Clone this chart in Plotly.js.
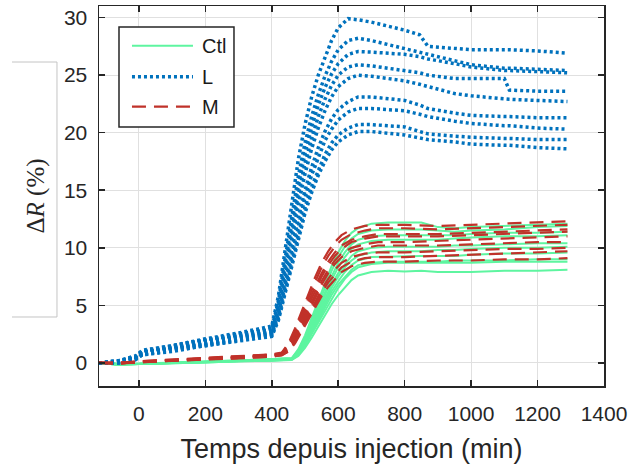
<!DOCTYPE html>
<html>
<head>
<meta charset="utf-8">
<script src="https://cdn.plot.ly/plotly-3.0.1.min.js"></script>
<style>html,body{margin:0;padding:0;background:#fff;}#chart{width:632px;height:464px;}</style>
</head>
<body>
<div id="chart"></div>
<script>
// ---- Data ----
const CATEGORIES = ['Ctl', 'L', 'M'];
const X_TICKS = [0, 200, 400, 600, 800, 1000, 1200, 1400];
const Y_TICKS = [0, 5, 10, 15, 20, 25, 30];

// Ctl group (green, solid)
const T_CTL = [-120, -60, 0, 100, 200, 300, 400, 460, 480, 500, 520, 540, 560, 580, 600, 620, 640, 660, 700, 750, 800, 850, 900, 950, 1000, 1100, 1200, 1290];
const CTL_1 = [0.0, -0.1, -0.1, 0.0, 0.1, 0.2, 0.3, 0.4, 1.2, 2.4, 3.9, 5.4, 7.0, 8.4, 9.6, 10.6, 11.3, 11.7, 12.1, 12.2, 12.2, 12.2, 11.8, 11.7, 11.8, 11.9, 12.0, 12.1];
const CTL_2 = [0.0, -0.1, -0.1, 0.0, 0.1, 0.2, 0.3, 0.4, 1.1, 2.2, 3.6, 5.1, 6.6, 8.0, 9.2, 10.1, 10.8, 11.2, 11.5, 11.6, 11.6, 11.6, 11.5, 11.4, 11.5, 11.6, 11.8, 11.9];
const CTL_3 = [0.0, -0.15, -0.1, 0.0, 0.05, 0.15, 0.25, 0.35, 1.0, 2.1, 3.4, 4.8, 6.2, 7.5, 8.7, 9.6, 10.3, 10.7, 11.0, 11.1, 11.1, 11.1, 11.1, 11.1, 11.2, 11.3, 11.3, 11.4];
const CTL_4 = [0.0, -0.1, -0.05, 0.0, 0.1, 0.2, 0.3, 0.4, 1.0, 2.0, 3.2, 4.5, 5.9, 7.2, 8.3, 9.2, 9.9, 10.3, 10.6, 10.7, 10.7, 10.7, 10.7, 10.8, 10.9, 11.0, 11.0, 11.1];
const CTL_5 = [0.0, -0.15, -0.1, -0.05, 0.05, 0.15, 0.25, 0.35, 0.9, 1.9, 3.0, 4.3, 5.6, 6.8, 7.8, 8.6, 9.3, 9.7, 10.0, 10.1, 10.1, 10.1, 10.1, 10.2, 10.2, 10.3, 10.4, 10.4];
const CTL_6 = [0.0, -0.1, -0.1, 0.0, 0.1, 0.2, 0.3, 0.35, 0.9, 1.8, 2.9, 4.1, 5.3, 6.5, 7.5, 8.3, 8.9, 9.3, 9.6, 9.7, 9.7, 9.7, 9.8, 9.8, 9.9, 10.0, 10.0, 10.1];
const CTL_7 = [0.0, -0.15, -0.1, 0.0, 0.05, 0.15, 0.25, 0.3, 0.8, 1.7, 2.7, 3.9, 5.1, 6.2, 7.1, 7.9, 8.5, 8.9, 9.2, 9.25, 9.25, 9.3, 9.3, 9.3, 9.4, 9.5, 9.5, 9.6];
const CTL_8 = [0.0, -0.1, -0.1, 0.0, 0.1, 0.2, 0.25, 0.3, 0.8, 1.6, 2.6, 3.7, 4.8, 5.9, 6.8, 7.5, 8.1, 8.5, 8.7, 8.8, 8.8, 8.8, 8.8, 8.9, 8.9, 8.9, 9.0, 9.0];
const CTL_9 = [0.0, -0.15, -0.1, -0.05, 0.05, 0.15, 0.2, 0.3, 0.7, 1.5, 2.5, 3.5, 4.6, 5.6, 6.5, 7.3, 7.9, 8.3, 8.6, 8.7, 8.7, 8.7, 8.7, 8.7, 8.7, 8.8, 8.8, 8.8];
const CTL_10 = [0.0, -0.1, -0.1, 0.0, 0.05, 0.15, 0.2, 0.25, 0.6, 1.3, 2.2, 3.2, 4.2, 5.1, 5.9, 6.6, 7.2, 7.6, 7.9, 8.0, 7.95, 8.0, 7.9, 7.9, 7.9, 8.0, 8.0, 8.1];

// L group (blue, dotted)
const T_L = [-120, -60, -10, 10, 100, 200, 300, 400, 420, 440, 460, 480, 500, 520, 540, 560, 580, 600, 630, 660, 700, 800, 845, 870, 950, 1000, 1100, 1115, 1200, 1290];
const L_1 = [0.0, 0.2, 0.6, 1.1, 1.5, 2.1, 2.6, 3.2, 5.8, 9.8, 13.7, 17.7, 20.7, 23.1, 25.0, 26.6, 28.0, 29.1, 29.9, 29.8, 29.6, 28.9, 28.5, 27.5, 27.3, 27.2, 27.2, 27.2, 27.1, 26.9];
const L_2 = [0.0, 0.2, 0.5, 1.0, 1.4, 2.0, 2.5, 3.0, 5.4, 9.0, 12.6, 16.2, 19.1, 21.4, 23.3, 24.9, 26.2, 27.2, 28.0, 28.2, 28.0, 27.3, 27.0, 26.8, 26.2, 25.9, 25.6, 25.6, 25.5, 25.4];
const L_3 = [0.0, 0.2, 0.6, 1.0, 1.5, 2.0, 2.5, 2.9, 5.2, 8.6, 12.0, 15.4, 18.2, 20.5, 22.4, 23.9, 25.1, 26.0, 26.8, 27.05, 27.0, 26.8, 26.6, 26.4, 26.0, 25.7, 25.4, 25.4, 25.3, 25.2];
const L_4 = [0.0, 0.1, 0.5, 0.9, 1.3, 1.9, 2.4, 2.8, 4.9, 8.1, 11.4, 14.6, 17.3, 19.5, 21.4, 22.9, 24.1, 25.0, 25.7, 25.9, 25.8, 25.4, 25.2, 25.0, 24.7, 24.7, 24.7, 23.7, 23.6, 23.6];
const L_5 = [0.0, 0.1, 0.5, 0.9, 1.3, 1.8, 2.3, 2.7, 4.6, 7.6, 10.7, 13.8, 16.4, 18.6, 20.4, 21.9, 23.1, 24.0, 24.7, 25.0, 24.9, 24.5, 24.2, 24.0, 23.4, 23.2, 22.9, 22.9, 22.8, 22.7];
const L_6 = [0.0, 0.1, 0.4, 0.8, 1.2, 1.7, 2.2, 2.6, 4.3, 7.0, 9.8, 12.6, 15.0, 17.0, 18.7, 20.1, 21.2, 22.0, 22.7, 23.1, 23.1, 22.8, 22.4, 22.1, 21.7, 21.5, 21.4, 21.4, 21.3, 21.3];
const L_7 = [0.0, 0.1, 0.4, 0.8, 1.2, 1.6, 2.1, 2.5, 4.1, 6.7, 9.4, 12.1, 14.4, 16.3, 17.9, 19.3, 20.3, 21.1, 21.8, 22.1, 22.1, 21.9, 21.6, 21.4, 21.0, 20.8, 20.6, 20.6, 20.4, 20.3];
const L_8 = [0.0, 0.0, 0.3, 0.7, 1.1, 1.5, 2.0, 2.4, 3.9, 6.3, 8.8, 11.3, 13.5, 15.3, 16.8, 18.1, 19.1, 19.8, 20.4, 20.7, 20.7, 20.5, 20.1, 19.9, 19.7, 19.6, 19.5, 19.5, 19.4, 19.4];
const L_9 = [0.0, 0.0, 0.3, 0.7, 1.0, 1.5, 1.9, 2.3, 3.7, 6.0, 8.5, 10.9, 13.0, 14.8, 16.3, 17.5, 18.5, 19.2, 19.8, 20.1, 20.1, 19.8, 19.5, 19.4, 19.2, 19.0, 18.9, 18.9, 18.7, 18.6];

// M group (red, dashed)
const T_M = [-120, -60, 0, 100, 200, 300, 400, 430, 450, 470, 490, 510, 530, 550, 570, 590, 610, 640, 680, 720, 800, 900, 1000, 1100, 1200, 1290];
const M_1 = [0.0, 0.0, 0.15, 0.3, 0.45, 0.55, 0.75, 0.9, 1.7, 3.0, 4.5, 6.0, 7.4, 8.7, 9.7, 10.5, 11.1, 11.6, 11.9, 12.0, 12.0, 11.9, 12.0, 12.1, 12.2, 12.3];
const M_2 = [0.0, -0.05, 0.1, 0.25, 0.4, 0.5, 0.7, 0.85, 1.6, 2.8, 4.2, 5.7, 7.0, 8.3, 9.3, 10.1, 10.7, 11.2, 11.5, 11.7, 11.7, 11.6, 11.7, 11.8, 11.9, 12.0];
const M_3 = [0.0, 0.0, 0.15, 0.3, 0.4, 0.5, 0.7, 0.8, 1.5, 2.6, 3.9, 5.3, 6.6, 7.8, 8.8, 9.6, 10.2, 10.7, 11.0, 11.2, 11.2, 11.2, 11.3, 11.4, 11.5, 11.6];
const M_4 = [0.0, -0.05, 0.1, 0.25, 0.35, 0.45, 0.65, 0.8, 1.4, 2.4, 3.7, 5.0, 6.3, 7.5, 8.5, 9.3, 9.9, 10.5, 10.8, 11.0, 11.0, 11.0, 11.1, 11.2, 11.3, 11.4];
const M_5 = [0.0, 0.0, 0.1, 0.25, 0.4, 0.5, 0.7, 0.8, 1.3, 2.2, 3.4, 4.7, 5.9, 7.1, 8.1, 8.9, 9.5, 10.0, 10.3, 10.5, 10.5, 10.6, 10.7, 10.8, 10.9, 11.0];
const M_6 = [0.0, -0.05, 0.1, 0.2, 0.35, 0.45, 0.6, 0.75, 1.2, 2.1, 3.2, 4.4, 5.6, 6.8, 7.8, 8.6, 9.2, 9.7, 10.0, 10.2, 10.2, 10.2, 10.3, 10.4, 10.5, 10.5];
const M_7 = [0.0, 0.0, 0.1, 0.2, 0.3, 0.45, 0.6, 0.7, 1.1, 1.9, 3.0, 4.1, 5.3, 6.4, 7.3, 8.1, 8.7, 9.2, 9.5, 9.6, 9.6, 9.7, 9.8, 9.9, 9.9, 10.0];
const M_8 = [0.0, -0.05, 0.05, 0.2, 0.3, 0.4, 0.55, 0.7, 1.0, 1.8, 2.8, 3.9, 5.0, 6.1, 7.0, 7.7, 8.3, 8.8, 9.1, 9.2, 9.2, 9.3, 9.4, 9.5, 9.6, 9.7];
const M_9 = [0.0, 0.0, 0.05, 0.2, 0.3, 0.4, 0.55, 0.65, 1.0, 1.7, 2.7, 3.7, 4.8, 5.8, 6.6, 7.3, 7.9, 8.4, 8.7, 8.8, 8.8, 8.9, 8.9, 9.0, 9.0, 9.1];

// ---- Styles ----
const FONT = 'Liberation Sans, Arial, sans-serif';
const STYLE_CTL = {color: '#5ef5a0', width: 2, dash: 'solid'};
const STYLE_L = {color: '#0072BD', width: 3.5, dash: '3px,3px'};
const STYLE_M = {color: '#c0322a', width: 2.2, dash: '14px,8px'};

const groups = [
  {name: CATEGORIES[0], t: T_CTL, series: [CTL_1, CTL_2, CTL_3, CTL_4, CTL_5, CTL_6, CTL_7, CTL_8, CTL_9, CTL_10], line: STYLE_CTL},
  {name: CATEGORIES[1], t: T_L, series: [L_1, L_2, L_3, L_4, L_5, L_6, L_7, L_8, L_9], line: STYLE_L},
  {name: CATEGORIES[2], t: T_M, series: [M_1, M_2, M_3, M_4, M_5, M_6, M_7, M_8, M_9], line: STYLE_M}
];

const traces = [];
groups.forEach(g => {
  g.series.forEach((ys, i) => {
    traces.push({
      type: 'scatter', mode: 'lines', x: g.t, y: ys,
      name: g.name, legendgroup: g.name, showlegend: false,
      line: Object.assign({}, g.line), hoverinfo: 'skip'
    });
  });
});

const axisCommon = {
  showline: true, linecolor: '#262626', linewidth: 1.5, mirror: 'ticks',
  ticks: 'inside', ticklen: 6, tickwidth: 1.5, tickcolor: '#262626',
  showgrid: true, gridcolor: '#e0e0e0', gridwidth: 1, zeroline: false,
  tickfont: {family: FONT, size: 21, color: '#262626'}
};

// Legend box drawn as a boxed key in paper coordinates (MATLAB-style)
const LEG = {x0: 0.0396, x1: 0.2673, y0: 0.6816, y1: 0.9447, lx0: 0.0653, lx1: 0.1861, tx: 0.200,
             rows: [0.8955, 0.8139, 0.735]};
const legendShapes = [
  {type: 'rect', xref: 'paper', yref: 'paper', x0: LEG.x0, x1: LEG.x1, y0: LEG.y0, y1: LEG.y1,
   fillcolor: '#ffffff', line: {color: '#262626', width: 1.5}, layer: 'above'}
];
const legendAnnotations = [];
groups.forEach((g, i) => {
  legendShapes.push({type: 'line', xref: 'paper', yref: 'paper', x0: LEG.lx0, x1: LEG.lx1,
    y0: LEG.rows[i], y1: LEG.rows[i], line: Object.assign({}, g.line), layer: 'above'});
  legendAnnotations.push({xref: 'paper', yref: 'paper', x: LEG.tx, y: LEG.rows[i],
    xanchor: 'left', yanchor: 'middle', showarrow: false, text: g.name,
    font: {family: FONT, size: 20, color: '#1a1a1a'}});
});

const layout = {
  width: 632, height: 464,
  margin: {l: 99, r: 28, t: 6, b: 78},
  paper_bgcolor: '#ffffff', plot_bgcolor: '#ffffff',
  font: {family: FONT, color: '#262626'},
  showlegend: false,
  xaxis: Object.assign({}, axisCommon, {
    range: [-120, 1400], tickmode: 'array', tickvals: X_TICKS, ticktext: X_TICKS.map(String),
    ticklabelstandoff: 8,
    title: {text: 'Temps depuis injection (min)', standoff: 15,
            font: {family: FONT, size: 27, color: '#262626'}}
  }),
  yaxis: Object.assign({}, axisCommon, {
    range: [-2, 31], tickmode: 'array', tickvals: Y_TICKS, ticktext: Y_TICKS.map(String),
    ticklabelstandoff: 6,
    title: {text: 'Δ<i>R</i> (%)', standoff: 12,
            font: {family: 'Liberation Serif, Times New Roman, serif', size: 25, color: '#262626'}}
  }),
  annotations: legendAnnotations,
  shapes: [
    {type: 'line', xref: 'paper', yref: 'paper', x0: -0.1723, x1: -0.0832, y0: 0.8526, y1: 0.8526, line: {color: '#c4c4c4', width: 1}},
    {type: 'line', xref: 'paper', yref: 'paper', x0: -0.0832, x1: -0.0832, y0: 0.1816, y1: 0.8526, line: {color: '#c4c4c4', width: 1}},
    {type: 'line', xref: 'paper', yref: 'paper', x0: -0.1723, x1: -0.0832, y0: 0.1816, y1: 0.1816, line: {color: '#c4c4c4', width: 1}}
  ].concat(legendShapes)
};

Plotly.newPlot('chart', traces, layout, {staticPlot: true, displayModeBar: false});
</script>
</body>
</html>
